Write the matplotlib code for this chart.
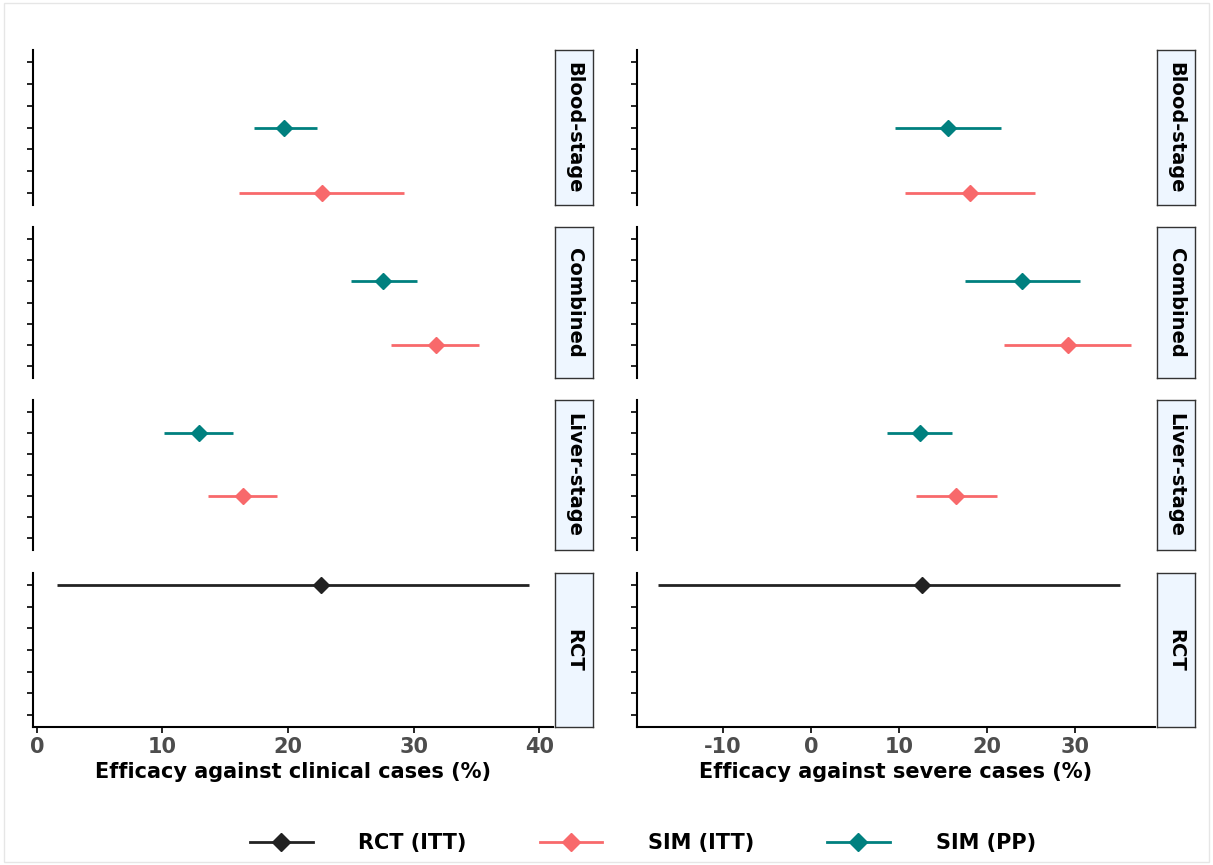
import matplotlib.pyplot as plt
from matplotlib.lines import Line2D

W, H = 1213, 865
facets = ['Blood-stage', 'Combined', 'Liver-stage', 'RCT']
colors = {'RCT (ITT)': '#222222', 'SIM (ITT)': '#F8696B', 'SIM (PP)': '#00807F'}

# (facet, series, y-level, est, lo, hi)
clinical = [
    ('Blood-stage', 'SIM (PP)', 4, 19.7, 17.3, 22.3),
    ('Blood-stage', 'SIM (ITT)', 7, 22.7, 16.1, 29.2),
    ('Combined', 'SIM (PP)', 3, 27.6, 25.0, 30.3),
    ('Combined', 'SIM (ITT)', 6, 31.8, 28.2, 35.2),
    ('Liver-stage', 'SIM (PP)', 2, 12.9, 10.1, 15.6),
    ('Liver-stage', 'SIM (ITT)', 5, 16.4, 13.6, 19.1),
    ('RCT', 'RCT (ITT)', 1, 22.6, 1.6, 39.2),
]
severe = [
    ('Blood-stage', 'SIM (PP)', 4, 15.6, 9.5, 21.6),
    ('Blood-stage', 'SIM (ITT)', 7, 18.1, 10.7, 25.5),
    ('Combined', 'SIM (PP)', 3, 24.0, 17.5, 30.6),
    ('Combined', 'SIM (ITT)', 6, 29.2, 21.9, 36.4),
    ('Liver-stage', 'SIM (PP)', 2, 12.4, 8.6, 16.0),
    ('Liver-stage', 'SIM (ITT)', 5, 16.5, 11.9, 21.1),
    ('RCT', 'RCT (ITT)', 1, 12.6, -17.4, 35.1),
]

fig = plt.figure(figsize=(W / 100, H / 100), dpi=100)
fig.patches.append(plt.Rectangle((0.003, 0.003), 0.994, 0.994, transform=fig.transFigure,
                                 fill=False, edgecolor='#e6e6e6', lw=1))

def px(x0, y0, x1, y1):
    return [x0 / W, 1 - y1 / H, (x1 - x0) / W, (y1 - y0) / H]

rows = [(50, 205), (227, 378), (400, 550), (573, 727)]
cols = [(33, 553, 555, 593, (-0.3, 41.1), [0, 10, 20, 30, 40], clinical,
         'Efficacy against clinical cases (%)'),
        (637, 1155, 1157, 1195, (-19.8, 39.1), [-10, 0, 10, 20, 30], severe,
         'Efficacy against severe cases (%)')]

for x0, x1, s0, s1, xlim, xt, data, xlabel in cols:
    for r, (y0, y1) in enumerate(rows):
        ax = fig.add_axes(px(x0, y0, x1, y1))
        ax.set_xlim(*xlim)
        ax.set_ylim(7.55, 0.45)
        ax.set_yticks(range(1, 8))
        ax.set_yticklabels([])
        for sp in ['top', 'right']:
            ax.spines[sp].set_visible(False)
        ax.spines['left'].set_linewidth(1.5)
        ax.spines['bottom'].set_linewidth(1.5)
        ax.tick_params(axis='y', length=4, width=1.2)
        for f, s, y, est, lo, hi in data:
            if f == facets[r]:
                ax.plot([lo, hi], [y, y], color=colors[s], lw=2, solid_capstyle='butt')
                ax.plot(est, y, marker='D', color=colors[s], ms=8, mec=colors[s])
        if r == 3:
            ax.set_xticks(xt)
            ax.set_xticklabels([str(v) for v in xt], fontsize=15, fontweight='bold',
                               color='#4d4d4d')
            ax.tick_params(axis='x', length=4, width=1.2)
            ax.set_xlabel(xlabel, fontsize=15, fontweight='bold', labelpad=3)
        else:
            ax.spines['bottom'].set_visible(False)
            ax.set_xticks([])
        sax = fig.add_axes(px(s0, y0, s1, y1))
        sax.set_facecolor('#EEF6FF')
        sax.set_xticks([]); sax.set_yticks([])
        for sp in sax.spines.values():
            sp.set_color('#333333'); sp.set_linewidth(1)
        sax.text(0.5, 0.5, facets[r], rotation=-90, ha='center', va='center',
                 fontsize=14, fontweight='bold', transform=sax.transAxes)

handles = [Line2D([0], [0], color=c, lw=2, marker='D', ms=9) for c in colors.values()]
fig.legend(handles, list(colors.keys()), loc='center', bbox_to_anchor=(0.53, 1 - 843 / H),
           ncol=3, frameon=False, prop={'size': 15, 'weight': 'bold'},
           handlelength=3, columnspacing=3.5, handletextpad=2.2)

fig.savefig('out.png', dpi=100)
